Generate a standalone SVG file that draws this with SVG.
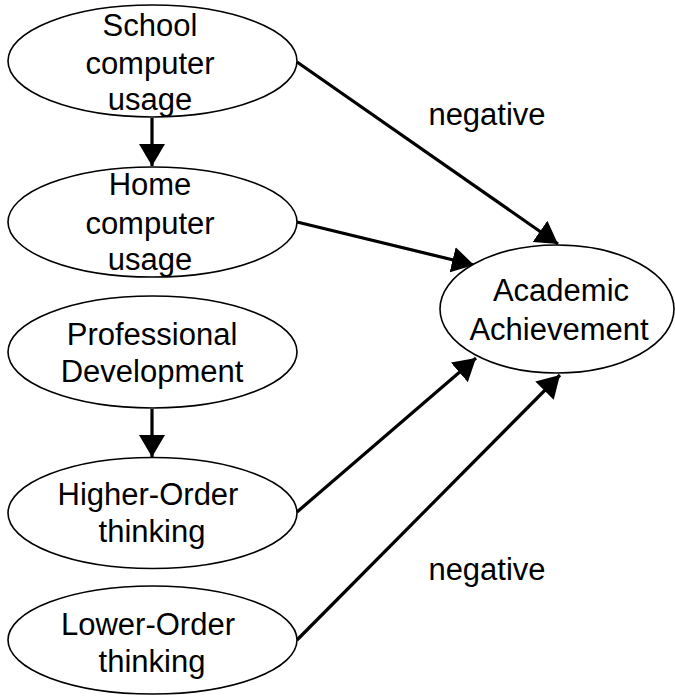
<svg xmlns="http://www.w3.org/2000/svg" width="675" height="696" viewBox="0 0 675 696">
<defs>
<style>
.node ellipse{fill:#fff;stroke:#000;stroke-width:1.6}
text{font-family:"Liberation Sans",Arial,sans-serif;font-size:31px;fill:#000;text-anchor:middle}
.edge{stroke:#000;stroke-width:3.2;fill:none;marker-end:url(#ah)}
</style>
<marker id="ah" viewBox="0 0 22 26" refX="22" refY="13" markerWidth="22" markerHeight="26" markerUnits="userSpaceOnUse" orient="auto">
<path d="M0,0 L22,13 L0,26 Z" fill="#000"/>
</marker>
</defs>
<rect width="675" height="696" fill="#fff"/>
<g id="connectors">
<line class="edge" x1="152" y1="118" x2="152" y2="166"/>
<line class="edge" x1="152" y1="409" x2="152" y2="457"/>
<line class="edge" x1="297" y1="62" x2="558" y2="244"/>
<line class="edge" x1="297" y1="222" x2="474" y2="265"/>
<line class="edge" x1="297" y1="512" x2="476" y2="358"/>
<line class="edge" x1="297" y1="640" x2="560" y2="375"/>
</g>
<g id="school" class="node">
<ellipse cx="152.5" cy="61" rx="144.5" ry="56"/>
<text x="150" y="36">School</text>
<text x="150" y="74">computer</text>
<text x="150" y="110">usage</text>
</g>
<g id="home" class="node">
<ellipse cx="152.5" cy="222" rx="144.5" ry="55"/>
<text x="150" y="195">Home</text>
<text x="150" y="234">computer</text>
<text x="150" y="270">usage</text>
</g>
<g id="prof" class="node">
<ellipse cx="152.5" cy="352" rx="144.5" ry="56"/>
<text x="152" y="345">Professional</text>
<text x="152" y="382">Development</text>
</g>
<g id="higher" class="node">
<ellipse cx="152.5" cy="513" rx="144.5" ry="55.5"/>
<text x="148" y="505">Higher-Order</text>
<text x="152" y="542">thinking</text>
</g>
<g id="lower" class="node">
<ellipse cx="152.5" cy="640" rx="144.5" ry="54"/>
<text x="148" y="635">Lower-Order</text>
<text x="152" y="672">thinking</text>
</g>
<g id="academic" class="node">
<ellipse cx="557" cy="309" rx="117" ry="64"/>
<text x="561" y="301">Academic</text>
<text x="559" y="340">Achievement</text>
</g>
<g id="labels">
<text x="487" y="125">negative</text>
<text x="487" y="580">negative</text>
</g>
</svg>
